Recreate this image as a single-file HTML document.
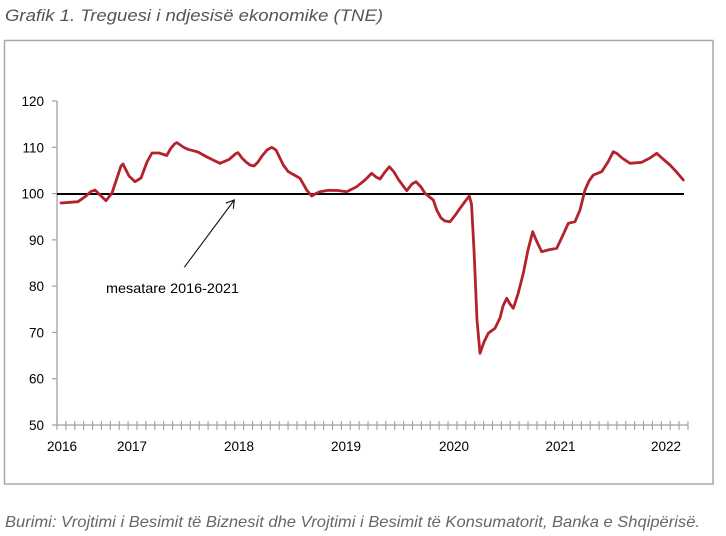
<!DOCTYPE html>
<html><head><meta charset="utf-8"><style>
html,body{margin:0;padding:0;background:#fff;}
svg{display:block;}
</style></head><body>
<svg width="726" height="536" viewBox="0 0 726 536" xmlns="http://www.w3.org/2000/svg">
<rect x="0" y="0" width="726" height="536" fill="#fff"/>
<text x="5" y="21" font-family="Liberation Sans, sans-serif" font-style="italic" font-size="17" fill="#555" textLength="378" lengthAdjust="spacingAndGlyphs">Grafik 1. Treguesi i ndjesisë ekonomike (TNE)</text>
<rect x="4.5" y="40.5" width="708.5" height="443.5" fill="none" stroke="#a8a8a8" stroke-width="1.5"/>
<!-- y axis -->
<line x1="57" y1="101" x2="57" y2="425" stroke="#a0a0a0" stroke-width="1.3"/>
<g stroke="#a0a0a0" stroke-width="1.2">
<line x1="52" y1="101" x2="57" y2="101"/><line x1="52" y1="147.3" x2="57" y2="147.3"/><line x1="52" y1="193.6" x2="57" y2="193.6"/><line x1="52" y1="239.9" x2="57" y2="239.9"/><line x1="52" y1="286.1" x2="57" y2="286.1"/><line x1="52" y1="332.4" x2="57" y2="332.4"/><line x1="52" y1="378.7" x2="57" y2="378.7"/><line x1="52" y1="425" x2="57" y2="425"/>
</g>
<g font-family="Liberation Sans, sans-serif" font-size="13.5" fill="#000" text-anchor="end">
<text x="44" y="106">120</text><text x="44" y="152.3">110</text><text x="44" y="198.6">100</text><text x="44" y="244.9">90</text><text x="44" y="291.1">80</text><text x="44" y="337.4">70</text><text x="44" y="383.7">60</text><text x="44" y="430">50</text>
</g>
<!-- x axis -->
<line x1="57" y1="425" x2="688" y2="425" stroke="#a0a0a0" stroke-width="1.3"/>
<path fill="none" stroke="#a0a0a0" stroke-width="1.1" d="M57,421V430M65.89,421V430M74.77,421V430M83.66,421V430M92.55,421V430M101.44,421V430M110.32,421V430M119.21,421V430M128.1,421V430M136.98,421V430M145.87,421V430M154.76,421V430M163.64,421V430M172.53,421V430M181.42,421V430M190.31,421V430M199.19,421V430M208.08,421V430M216.97,421V430M225.85,421V430M234.74,421V430M243.63,421V430M252.51,421V430M261.4,421V430M270.29,421V430M279.18,421V430M288.06,421V430M296.95,421V430M305.84,421V430M314.72,421V430M323.61,421V430M332.5,421V430M341.38,421V430M350.27,421V430M359.16,421V430M368.05,421V430M376.93,421V430M385.82,421V430M394.71,421V430M403.59,421V430M412.48,421V430M421.37,421V430M430.25,421V430M439.14,421V430M448.03,421V430M456.92,421V430M465.8,421V430M474.69,421V430M483.58,421V430M492.46,421V430M501.35,421V430M510.24,421V430M519.12,421V430M528.01,421V430M536.9,421V430M545.79,421V430M554.67,421V430M563.56,421V430M572.45,421V430M581.33,421V430M590.22,421V430M599.11,421V430M607.99,421V430M616.88,421V430M625.77,421V430M634.66,421V430M643.54,421V430M652.43,421V430M661.32,421V430M670.2,421V430M679.09,421V430M687.98,421V430"/>
<g font-family="Liberation Sans, sans-serif" font-size="13.5" fill="#000" text-anchor="middle">
<text x="62" y="451">2016</text><text x="132" y="451">2017</text><text x="239" y="451">2018</text><text x="346" y="451">2019</text><text x="454" y="451">2020</text><text x="560.5" y="451">2021</text><text x="666" y="451">2022</text>
</g>
<!-- mean line -->
<line x1="57" y1="194" x2="684" y2="194" stroke="#000" stroke-width="2"/>
<!-- series -->
<polyline fill="none" stroke="#b3222d" stroke-width="2.8" stroke-linejoin="round" stroke-linecap="round" points="61,203 70,202.3 78,201.7 86,196 91,191.5 95,190 100,195 106,200.7 112,193 117,178 121,166 123,164 126,170 129,176 135,181.7 141,178 147,162 152,153 159,153 166.7,155.5 171,148 175,143.5 177,142.7 181,145.5 184,147.5 188,149.3 193,150.7 198,152 206,156.5 213,160 220,163.3 229,159.5 236,153.5 238,152.7 242,158 246,162 250,165 254,166 258,162 262,156 267,150 271.7,147.3 276,150 283.3,165 288.3,171.7 296,176 300,178.3 306.7,190 311.7,196 316,193.5 320,191.7 328.3,190.3 338,190.5 346.7,191.7 356.7,186.7 365,180 371.7,173.3 376,177 380,179 385,172 389.3,166.7 394,172 398.3,179.3 406.7,190.7 412,184 416,181.7 421,187 425,193.3 433.3,200 436.7,210 441,218 445,221 450,221.7 455,215.5 460,208.3 465,201.5 469.3,196 471.5,204 474,250 477,320 480,353.3 484,342 488.3,333.3 495,328.3 500,318 503,306 506.7,298.3 510,304 513.3,308.3 518,294 523.3,273.3 528,250 532.7,231.7 537,242 541.7,251.7 548,250 556.7,248.3 563,235 568.3,223.3 575,221.7 580,210 585,190 589,181 593.3,175 601.7,171.7 608,162 613.3,151.7 617,153.5 622,158 630,163.3 641.7,162.3 650,158 656.7,153.3 663,159 670,165 677,172.5 683.3,180"/>
<!-- annotation -->
<g stroke="#111" stroke-width="1.1" fill="none">
<line x1="184.3" y1="267.3" x2="234.3" y2="200"/>
<polyline points="225.8,203.2 234.3,200 233.3,208.8"/>
</g>
<text x="106" y="293" font-family="Liberation Sans, sans-serif" font-size="14" fill="#000" textLength="133" lengthAdjust="spacingAndGlyphs">mesatare 2016-2021</text>
<text x="5" y="527" font-family="Liberation Sans, sans-serif" font-style="italic" font-size="16" fill="#666" textLength="695" lengthAdjust="spacingAndGlyphs">Burimi: Vrojtimi i Besimit të Biznesit dhe Vrojtimi i Besimit të Konsumatorit, Banka e Shqipërisë.</text>
</svg>
</body></html>
